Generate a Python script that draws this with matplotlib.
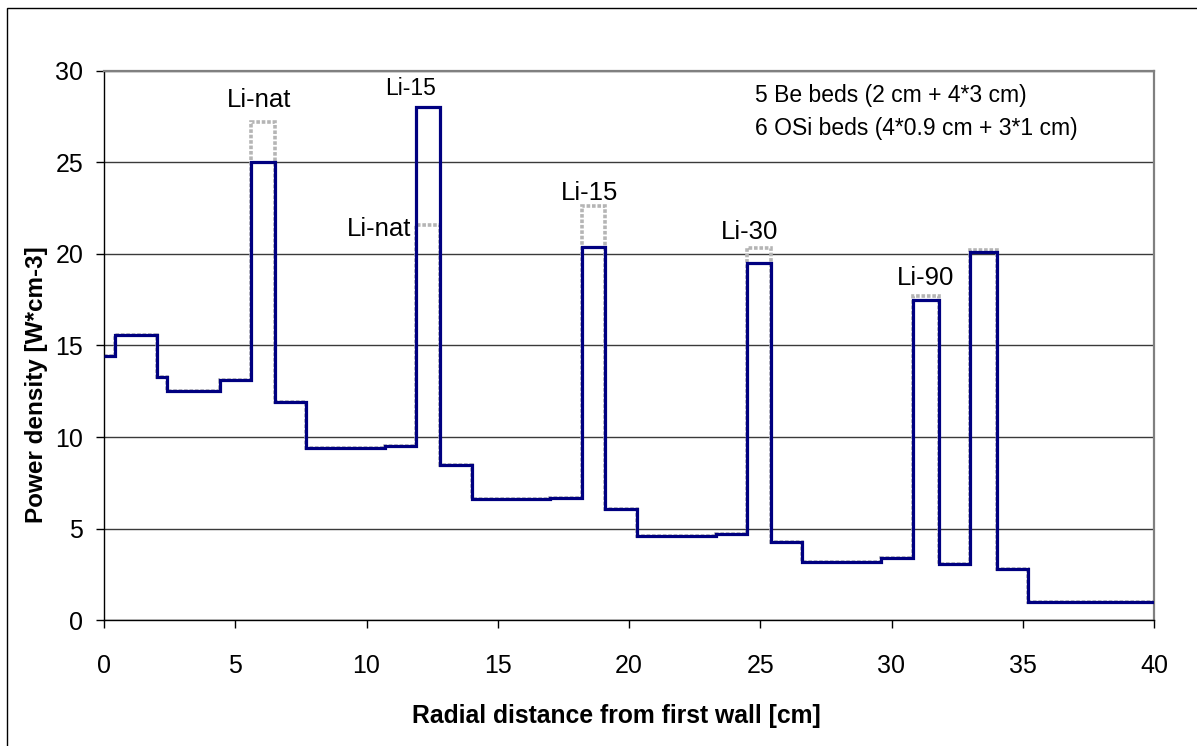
import matplotlib
matplotlib.use('Agg')
import matplotlib.pyplot as plt
from matplotlib.patches import Rectangle

plt.rcParams['font.family'] = ['Liberation Sans', 'DejaVu Sans']

# bed boundaries along the radial direction [cm]
edges = [0, 0.4, 2.0, 2.4, 4.4, 5.6, 6.5, 7.7, 10.7, 11.9, 12.8, 14.0, 17.0, 18.2,
         19.1, 20.3, 23.3, 24.5, 25.4, 26.6, 29.6, 30.8, 31.8, 33.0, 34.0, 35.2, 40]
# power density per zone [W/cm3]
power = [14.4, 15.6, 13.3, 12.5, 13.1, 25.0, 11.9, 9.4, 9.5, 28.0, 8.5, 6.6, 6.7,
         20.4, 6.1, 4.6, 4.7, 19.5, 4.3, 3.2, 3.4, 17.5, 3.05, 20.1, 2.8, 1.0]
# alternative enrichment (grey) - only differs in the OSi beds
power_alt = [14.4, 15.6, 13.3, 12.5, 13.1, 27.2, 11.9, 9.4, 9.5, 21.6, 8.5, 6.6, 6.7,
             22.6, 6.1, 4.6, 4.7, 20.3, 4.3, 3.2, 3.4, 17.7, 3.05, 20.2, 2.8, 1.0]

labels = ['Li-nat', 'Li-15', 'Li-nat', 'Li-15', 'Li-30', 'Li-90']
label_x = [5.92, 11.68, 10.48, 18.48, 24.6, 31.28]
label_y = [28.4, 29.05, 21.36, 23.3, 21.2, 18.67]
label_size = [18.5, 16.5, 18.5, 18.5, 18.5, 18.5]

fig = plt.figure(figsize=(11.97, 7.46), dpi=100)
ax = fig.add_axes([104 / 1197, 1 - 620.3 / 746, 1050 / 1197, 549.6 / 746])

ax.stairs(power_alt, edges, baseline=None, color='#b5b5b5', lw=2.6,
          linestyle=(0, (1, 0.5)), zorder=2)
ax.stairs(power, edges, baseline=None, color='#000080', lw=2.3, zorder=3)

for t, x, y, s in zip(labels, label_x, label_y, label_size):
    ax.text(x, y, t, fontsize=s, ha='center', va='center', zorder=4)

ax.text(24.8, 28.63, '5 Be beds (2 cm + 4*3 cm)', fontsize=16.5, ha='left', va='center')
ax.text(24.8, 26.83, '6 OSi beds (4*0.9 cm + 3*1 cm)', fontsize=16.5, ha='left', va='center')

ax.set_xlim(0, 40)
ax.set_ylim(0, 30)
ax.set_xticks(range(0, 41, 5))
ax.set_yticks(range(0, 31, 5))
ax.yaxis.grid(True, color='#3a3a3a', lw=1.0)
ax.set_axisbelow(True)

ax.tick_params(axis='x', direction='out', length=5.5, width=1, pad=19, labelsize=18)
ax.tick_params(axis='y', direction='out', length=6, width=1, pad=9, labelsize=18)

for side in ['top', 'right']:
    ax.spines[side].set_color('#808080')
    ax.spines[side].set_linewidth(1.6)
for side in ['left', 'bottom']:
    ax.spines[side].set_color('black')
    ax.spines[side].set_linewidth(1.0)

ax.set_xlabel('Radial distance from first wall [cm]', fontsize=17.8, fontweight='bold')
ax.xaxis.label.set_va('center')
ax.xaxis.set_label_coords(0.488, (620.3 - 716) / 549.6)
ax.set_ylabel('Power density [W*cm-3]', fontsize=17.5, fontweight='bold')
ax.yaxis.label.set_va('center')
ax.yaxis.set_label_coords((37 - 104) / 1050, 0.428)

# outer chart frame
fig.patches.append(Rectangle((7 / 1197, -0.1), 1.2, 1 - 8 / 746 + 0.1,
                             transform=fig.transFigure, fill=False,
                             edgecolor='black', lw=1.0))

plt.savefig('out.png', dpi=100)
